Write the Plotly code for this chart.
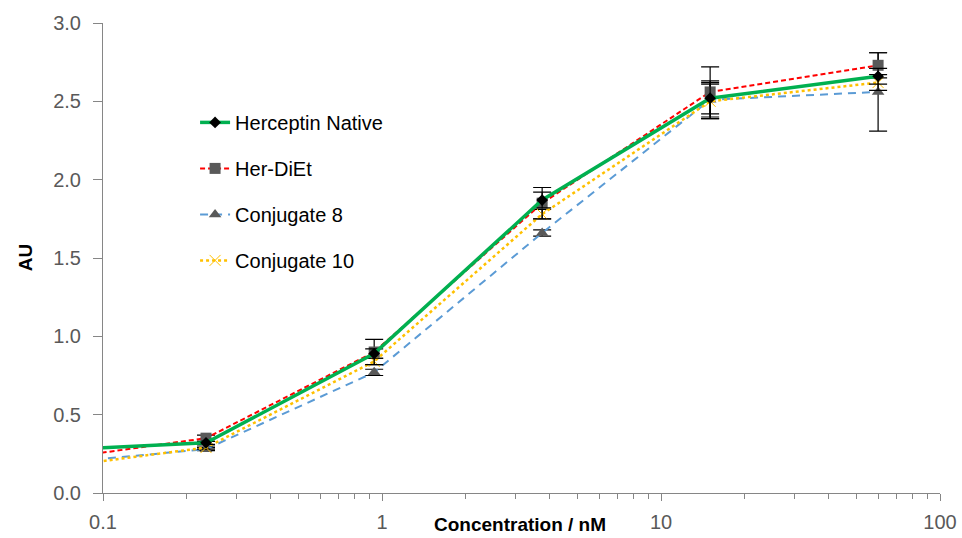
import plotly.graph_objects as go

# 4-fold dilution series (nM); the lowest point sits left of the axis start
concentration = [0.0586, 0.234, 0.9375, 3.75, 15, 60]

herceptin_native = [0.27, 0.32, 0.89, 1.87, 2.52, 2.66]
herceptin_native_err = [0.01, 0.01, 0.03, 0.05, 0.10, 0.05]

her_diet = [0.20, 0.35, 0.90, 1.85, 2.56, 2.73]
her_diet_err = [0.01, 0.02, 0.08, 0.10, 0.16, 0.08]

conjugate_8 = [0.18, 0.28, 0.77, 1.66, 2.51, 2.56]
conjugate_8_err = [0.01, 0.01, 0.02, 0.02, 0.12, 0.25]

conjugate_10 = [0.15, 0.29, 0.84, 1.78, 2.50, 2.62]
conjugate_10_err = [0.01, 0.01, 0.02, 0.03, 0.11, 0.05]

x_tickvals = [0.1, 1, 10, 100]
x_ticktext = ["0.1", "1", "10", "100"]

series = [
    # name, values, errors, line, marker, legend rank
    ("Conjugate 8", conjugate_8, conjugate_8_err,
     dict(color="#5B9BD5", width=2, dash="8px,6px"),
     dict(symbol="triangle-up", color="#595959", size=11), 3),
    ("Conjugate 10", conjugate_10, conjugate_10_err,
     dict(color="#FFC000", width=2.5, dash="dot"),
     dict(symbol="x-thin-open", size=11, line=dict(color="#FFC000", width=1)), 4),
    ("Her-DiEt", her_diet, her_diet_err,
     dict(color="#FF0000", width=2, dash="5px,3px"),
     dict(symbol="square", color="#595959", size=11), 2),
    ("Herceptin Native", herceptin_native, herceptin_native_err,
     dict(color="#00B050", width=3.5),
     dict(symbol="diamond", color="#000000", size=9), 1),
]

fig = go.Figure()
for name, values, errors, line, marker, rank in series:
    fig.add_trace(go.Scatter(
        x=concentration,
        y=values,
        name=name,
        mode="lines+markers",
        line=line,
        marker=marker,
        error_y=dict(type="data", array=errors, visible=True,
                     color="#000000", thickness=1.2, width=9),
        legendrank=rank,
        legendgroup=name,
    ))

fig.add_annotation(
    text="<b>Concentration / nM</b>",
    xref="paper", yref="paper",
    x=0.498, y=-0.068,
    xanchor="center", yanchor="middle",
    showarrow=False,
    font=dict(size=19, color="#000000"),
)
fig.add_annotation(
    text="<b>AU</b>",
    xref="paper", yref="paper",
    x=-0.093, y=0.5,
    xanchor="center", yanchor="middle",
    textangle=-90,
    showarrow=False,
    font=dict(size=19, color="#000000"),
)

fig.update_layout(
    width=962,
    height=538,
    margin=dict(l=103, r=22, t=23, b=45),
    plot_bgcolor="white",
    paper_bgcolor="white",
    font=dict(family="Liberation Sans, Arial", size=20, color="#595959"),
    showlegend=True,
    legend=dict(
        x=0.11, y=0.83, xanchor="left", yanchor="top",
        font=dict(size=20, color="#000000"),
        traceorder="grouped",
        tracegroupgap=17,
        bgcolor="rgba(0,0,0,0)",
    ),
)
fig.update_xaxes(
    type="log",
    range=[-1, 2],
    tickvals=x_tickvals,
    ticktext=x_ticktext,
    ticks="outside",
    ticklen=7,
    tickcolor="#868686",
    showline=True,
    linecolor="#868686",
    linewidth=1,
    showgrid=False,
    zeroline=False,
    automargin=False,
    ticklabeloverflow="allow",
    ticklabelstandoff=4,
    minor=dict(ticks="outside", ticklen=5, tickcolor="#868686", dtick="D1", showgrid=False),
)
fig.update_yaxes(
    range=[0, 3.0],
    dtick=0.5,
    tickformat=".1f",
    ticks="outside",
    ticklen=9,
    tickcolor="#868686",
    showline=True,
    linecolor="#868686",
    linewidth=1,
    showgrid=False,
    zeroline=False,
    automargin=False,
    ticklabelstandoff=8,
)

# drop the default page margin so the figure fills the window exactly
fig.write_html(
    "out.html",
    config={"displayModeBar": False},
    post_script="document.body.style.margin = '0';",
)
